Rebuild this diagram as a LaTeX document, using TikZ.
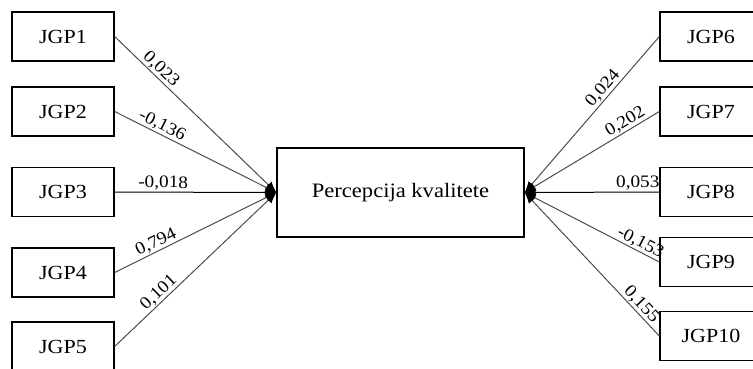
\documentclass[tikz,border=0pt]{standalone}
\usepackage{fontspec}
\setmainfont{Liberation Serif}[FakeStretch=1.1]
\usetikzlibrary{arrows.meta}
\begin{document}
\begin{tikzpicture}[x=1pt,y=-1pt,
  box/.style={draw=black,line width=1.3pt,minimum width=102pt,minimum height=49pt,inner sep=0pt,font=\fontsize{20}{22}\selectfont},
  mainbox/.style={draw=black,line width=1.3pt,minimum width=247pt,minimum height=89pt,inner sep=0pt,font=\fontsize{20.5}{24}\selectfont},
  link/.style={draw=black!70,line width=1pt,-{Latex[length=11pt,width=9pt,black]}},
  hlink/.style={link,draw=black},
  lab/.style={sloped,above,inner sep=1pt,font=\fontsize{17.5}{19}\selectfont}]
\useasboundingbox (0,0) rectangle (753,368);
\clip (0,0) rectangle (753,368);
\node[mainbox] (pk) at (400.5,192.5) {Percepcija kvalitete};
\node[box] (j1) at (63,36.5) {JGP1};
\node[box] (j2) at (63,111.5) {JGP2};
\node[box] (j3) at (63,192) {JGP3};
\node[box] (j4) at (63,272.5) {JGP4};
\node[box] (j5) at (63,346.5) {JGP5};
\node[box] (j6) at (711,36.5) {JGP6};
\node[box] (j7) at (711,111.5) {JGP7};
\node[box] (j8) at (711,192) {JGP8};
\node[box] (j9) at (711,262) {JGP9};
\node[box] (j10) at (711,336) {JGP10};
\draw[link] (j1.east) -- node[lab,pos=0.25] {0,023} (pk.west);
\draw[link] (j2.east) -- node[lab,pos=0.27] {-0,136} (pk.west);
\draw[hlink] (j3.east) -- node[lab,pos=0.30] {-0,018} (pk.west);
\draw[link] (j4.east) -- node[lab,pos=0.28] {0,794} (pk.west);
\draw[link] (j5.east) -- node[lab,pos=0.31] {0,101} (pk.west);
\draw[link] (j6.west) -- node[lab,pos=0.37] {0,024} (pk.east);
\draw[link] (j7.west) -- node[lab,pos=0.22] {0,202} (pk.east);
\draw[hlink] (j8.west) -- node[lab,pos=0.16] {0,053} (pk.east);
\draw[link] (j9.west) -- node[lab,pos=0.17] {-0,153} (pk.east);
\draw[link] (j10.west) -- node[lab,pos=0.18] {0,155} (pk.east);
\end{tikzpicture}
\end{document}
